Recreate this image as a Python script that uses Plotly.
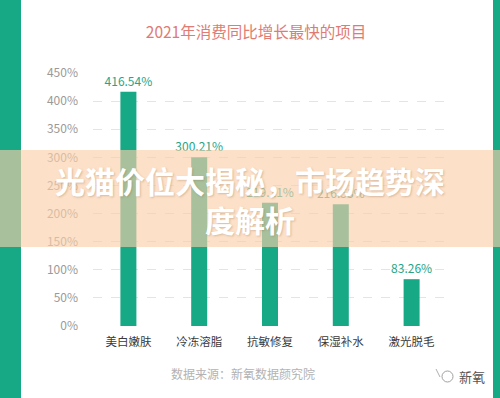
import plotly.graph_objects as go

categories = ["美白嫩肤", "冷冻溶脂", "抗敏修复", "保湿补水", "激光脱毛"]
growth = [416.54, 300.21, 219.11, 216.53, 83.26]
y_ticks = [0, 50, 100, 150, 200, 250, 300, 350, 400, 450]
y_tick_labels = [f"{v}%" for v in y_ticks]
value_labels = [f"{v:.2f}%" for v in growth]

title_text = "2021年消费同比增长最快的项目"
banner_text = "光猫价位大揭秘，市场趋势深<br>度解析"
source_text = "数据来源：新氧数据颜究院"
brand_text = "新氧"

W, H = 500, 398
ML, MR, MT, MB = 93, 53, 73, 72
PW = W - ML - MR
PH = H - MT - MB

def px(x):
    return (x - ML) / PW

def py(y):
    return (H - MB - y) / PH

FONT = "Noto Sans CJK SC, Noto Sans, sans-serif"
TEAL = "#17a886"

fig = go.Figure()
fig.add_trace(go.Bar(
    x=categories, y=growth,
    marker=dict(color=TEAL, line=dict(width=0)),
    text=value_labels, textposition="outside",
    constraintext="none",
    textfont=dict(color="#27a588", size=12, family=FONT),
    cliponaxis=False,
    hoverinfo="skip",
))

shapes = [
    # green side strips
    dict(type="rect", xref="paper", yref="paper", x0=px(0), x1=px(21), y0=py(H), y1=py(0),
         fillcolor=TEAL, line=dict(width=0), layer="below"),
    dict(type="rect", xref="paper", yref="paper", x0=px(493), x1=px(500), y0=py(H), y1=py(0),
         fillcolor=TEAL, line=dict(width=0), layer="below"),
    # banner overlay
    dict(type="rect", xref="paper", yref="paper", x0=px(0), x1=px(500), y0=py(247), y1=py(150),
         fillcolor="rgba(250,206,169,0.64)", line=dict(width=0), layer="above"),
    # brand icon
    dict(type="circle", xref="paper", yref="paper", x0=px(442), x1=px(453), y0=py(382), y1=py(371),
         line=dict(color="#a0a0a0", width=1), fillcolor="rgba(0,0,0,0)", layer="above"),
    dict(type="line", xref="paper", yref="paper", x0=px(436), x1=px(440), y0=py(369), y1=py(377),
         line=dict(color="#b0b0b0", width=1), layer="above"),
]

annotations = [
    dict(text=banner_text, xref="paper", yref="paper", x=px(250), y=py(199),
         xanchor="center", yanchor="middle", showarrow=False, align="center",
         font=dict(family=FONT, size=30, color="white", weight="bold",
                   shadow="1px 1px 2px rgba(120,80,40,0.25)")),
    dict(text=source_text, xref="paper", yref="paper", x=px(243), y=py(373),
         xanchor="center", yanchor="middle", showarrow=False,
         font=dict(family=FONT, size=12, color="#b3b3b3")),
    dict(text=brand_text, xref="paper", yref="paper", x=px(472), y=py(376),
         xanchor="center", yanchor="middle", showarrow=False,
         font=dict(family=FONT, size=13, color="#555555")),
]

fig.update_layout(
    width=W, height=H,
    margin=dict(l=ML, r=MR, t=MT, b=MB),
    paper_bgcolor="white", plot_bgcolor="white",
    showlegend=False,
    bargap=0.774,
    title=dict(text=title_text, x=0.512, xanchor="center", y=1 - 33 / H, yanchor="middle",
               font=dict(family=FONT, size=15.5, color="#df7b74")),
    shapes=shapes,
    annotations=annotations,
    xaxis=dict(showgrid=False, zeroline=False, showline=False, ticks="",
               tickfont=dict(family=FONT, size=11.5, color="#3a3a3a"),
               ticklabelstandoff=7),
    yaxis=dict(range=[0, 450], tickvals=y_ticks, ticktext=y_tick_labels,
               showgrid=True, gridcolor="#e4e4e4", griddash="dash", gridwidth=1,
               zeroline=False, showline=False, ticks="",
               tickfont=dict(family=FONT, size=12, color="#9a9a9a"),
               ticklabelstandoff=14),
)

fig.write_html(
    "out.html",
    config={"displayModeBar": False},
    post_script="document.body.style.margin='0';document.body.style.padding='0';document.body.style.overflow='hidden';",
)
